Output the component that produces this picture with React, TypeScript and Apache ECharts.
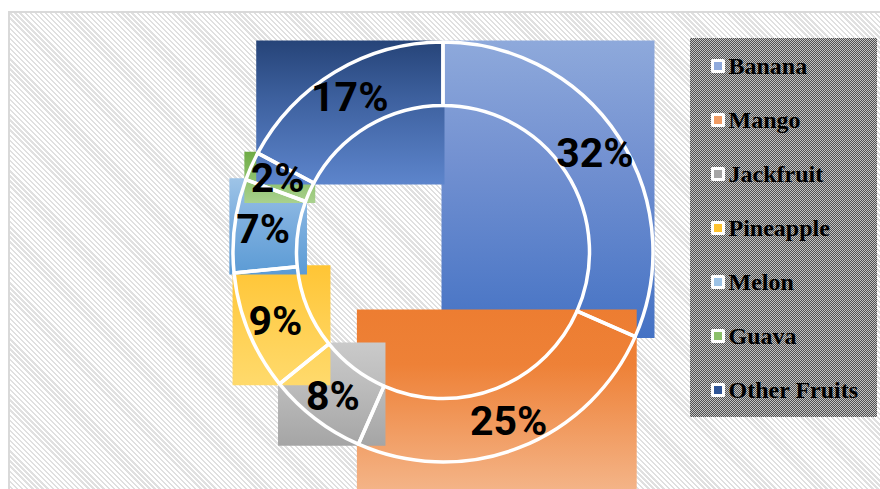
import React, { useEffect, useRef } from 'react';
import * as echarts from 'echarts';

// ---- data ----
const categories = ['Banana', 'Mango', 'Jackfruit', 'Pineapple', 'Melon', 'Guava', 'Other Fruits'];
const shares = [31.6, 25.0, 7.6, 9.2, 7.2, 2.2, 17.2];

// ---- styles ----
const fillTop = ['#8EA9DB', '#ED7D31', '#CACACA', '#FFC535', '#9EC4E7', '#6EAB45', '#264478'];
const fillMid = ['#7391D1', '#EE8137', '#BDBDBD', '#FFCF50', '#80B0DF', '#86BC63', '#3D609E'];
const fillBottom = ['#4472C4', '#F4B589', '#A5A5A5', '#FFDA6C', '#5B9BD5', '#A9D18E', '#5D85CC'];
const midStop = [0.4, 0.3, 0.4, 0.45, 0.4, 0.4, 0.4];
const legendColors = ['#8FAADC', '#F19C64', '#A5A5A5', '#FFC32E', '#9DC3E6', '#8CC06A', '#2F5597'];

const CX = 443;
const CY = 252;
const R_IN = 146.5;
const R_OUT = 210;
const PAD = 1.5;

function pt(r: number, a: number): [number, number] {
  const t = (a * Math.PI) / 180;
  return [CX + r * Math.sin(t), CY - r * Math.cos(t)];
}

// hull of the bezier control points used to draw an arc (segments of <= 90deg)
function arcHull(r: number, a0: number, a1: number, pts: [number, number][]) {
  const dir = a1 >= a0 ? 1 : -1;
  let a = a0;
  pts.push(pt(r, a0));
  let guard = 0;
  while (dir * (a1 - a) > 1e-9 && guard++ < 10) {
    const step = Math.min(90, Math.abs(a1 - a));
    const b = a + dir * step;
    const k = (4 / 3) * Math.tan((step * Math.PI) / 180 / 4);
    const [x0, y0] = pt(r, a);
    const [x3, y3] = pt(r, b);
    const ta = (a * Math.PI) / 180;
    const tb = (b * Math.PI) / 180;
    pts.push([x0 + dir * k * r * Math.cos(ta), y0 + dir * k * r * Math.sin(ta)]);
    pts.push([x3 - dir * k * r * Math.cos(tb), y3 - dir * k * r * Math.sin(tb)]);
    pts.push([x3, y3]);
    a = b;
  }
}

function sliceBox(idx: number, values: number[]) {
  const total = values.reduce((s, v) => s + v, 0);
  let before = 0;
  for (let j = 0; j < idx; j++) before += values[j];
  const a0 = (before / total) * 360;
  const a1 = ((before + values[idx]) / total) * 360;
  const pts: [number, number][] = [];
  arcHull(R_OUT, a0, a1, pts);
  arcHull(R_IN, a1, a0, pts);
  const xs = pts.map((p) => p[0]);
  const ys = pts.map((p) => p[1]);
  const x0 = Math.min(...xs) - PAD;
  const y0 = Math.min(...ys) - PAD;
  const x1 = Math.max(...xs) + PAD;
  const y1 = Math.max(...ys) + PAD;
  return { x: x0, y: y0, width: x1 - x0, height: y1 - y0 };
}

export default function App() {
  const ref = useRef<HTMLDivElement>(null);

  useEffect(() => {
    if (!ref.current) return;
    const chart = echarts.init(ref.current, undefined, { renderer: 'svg' });
    const option: any = {
      animation: false,
      backgroundColor: 'transparent',
      legend: {
        orient: 'vertical',
        left: 711,
        top: 53,
        padding: 0,
        itemGap: 28,
        itemWidth: 11,
        itemHeight: 11,
        icon: 'rect',
        selectedMode: false,
        textStyle: {
          fontFamily: '"Liberation Serif", "Times New Roman", serif',
          fontWeight: 'bold',
          fontSize: 24,
          lineHeight: 26,
          color: '#000',
        },
        data: categories.map((name, i) => ({
          name,
          itemStyle: { color: legendColors[i], borderColor: '#fff', borderWidth: 3 },
        })),
      },
      series: [
        {
          name: 'fills',
          type: 'custom',
          coordinateSystem: 'none',
          silent: true,
          z: 1,
          data: shares.map((v, i) => [i, v]),
          renderItem: (params: any, api: any) => {
            const i = params.dataIndex;
            const box = sliceBox(i, shares);
            return {
              type: 'rect',
              shape: box,
              style: {
                fill: new echarts.graphic.LinearGradient(0, 0, 0, 1, [
                  { offset: 0, color: fillTop[i] },
                  { offset: midStop[i], color: fillMid[i] },
                  { offset: 1, color: fillBottom[i] },
                ]),
              },
            };
          },
        },
        {
          name: 'Fruits',
          type: 'pie',
          z: 3,
          silent: true,
          center: [CX, CY],
          radius: [R_IN, R_OUT],
          startAngle: 90,
          clockwise: true,
          percentPrecision: 0,
          avoidLabelOverlap: false,
          data: categories.map((name, i) => ({ name, value: shares[i] })),
          itemStyle: { color: 'rgba(0,0,0,0)', borderColor: '#ffffff', borderWidth: 3.5 },
          label: {
            show: true,
            position: 'inside',
            formatter: '{d}%',
            color: '#000',
            fontFamily: 'Roboto, "Liberation Sans", sans-serif',
            fontWeight: 'bold',
            fontSize: 41,
          },
          labelLine: { show: false },
          emphasis: { disabled: true },
        },
      ],
    };
    chart.setOption(option);
    return () => chart.dispose();
  }, []);

  return (
    <div
      style={{
        position: 'absolute',
        left: 0,
        top: 0,
        width: 880,
        height: 489,
        overflow: 'hidden',
        background: '#ffffff',
      }}
    >
      <div
        style={{
          position: 'absolute',
          left: 8,
          top: 11,
          width: 890,
          height: 490,
          border: '2px solid #d9d9d9',
          backgroundColor: '#ffffff',
          backgroundImage:
            'repeating-linear-gradient(45deg, #e0e0e0 0px, #e0e0e0 1.7px, #ffffff 1.7px, #ffffff 3.6px)',
        }}
      />
      <div
        style={{
          position: 'absolute',
          left: 690,
          top: 38,
          width: 187,
          height: 379,
          backgroundColor: '#8a8a8a',
          backgroundImage:
            'repeating-conic-gradient(#505050 0% 25%, #c2c2c2 0% 50%)',
          backgroundSize: '2px 2px',
        }}
      />
      <div ref={ref} style={{ position: 'absolute', left: 0, top: 0, width: 880, height: 489 }} />
    </div>
  );
}
